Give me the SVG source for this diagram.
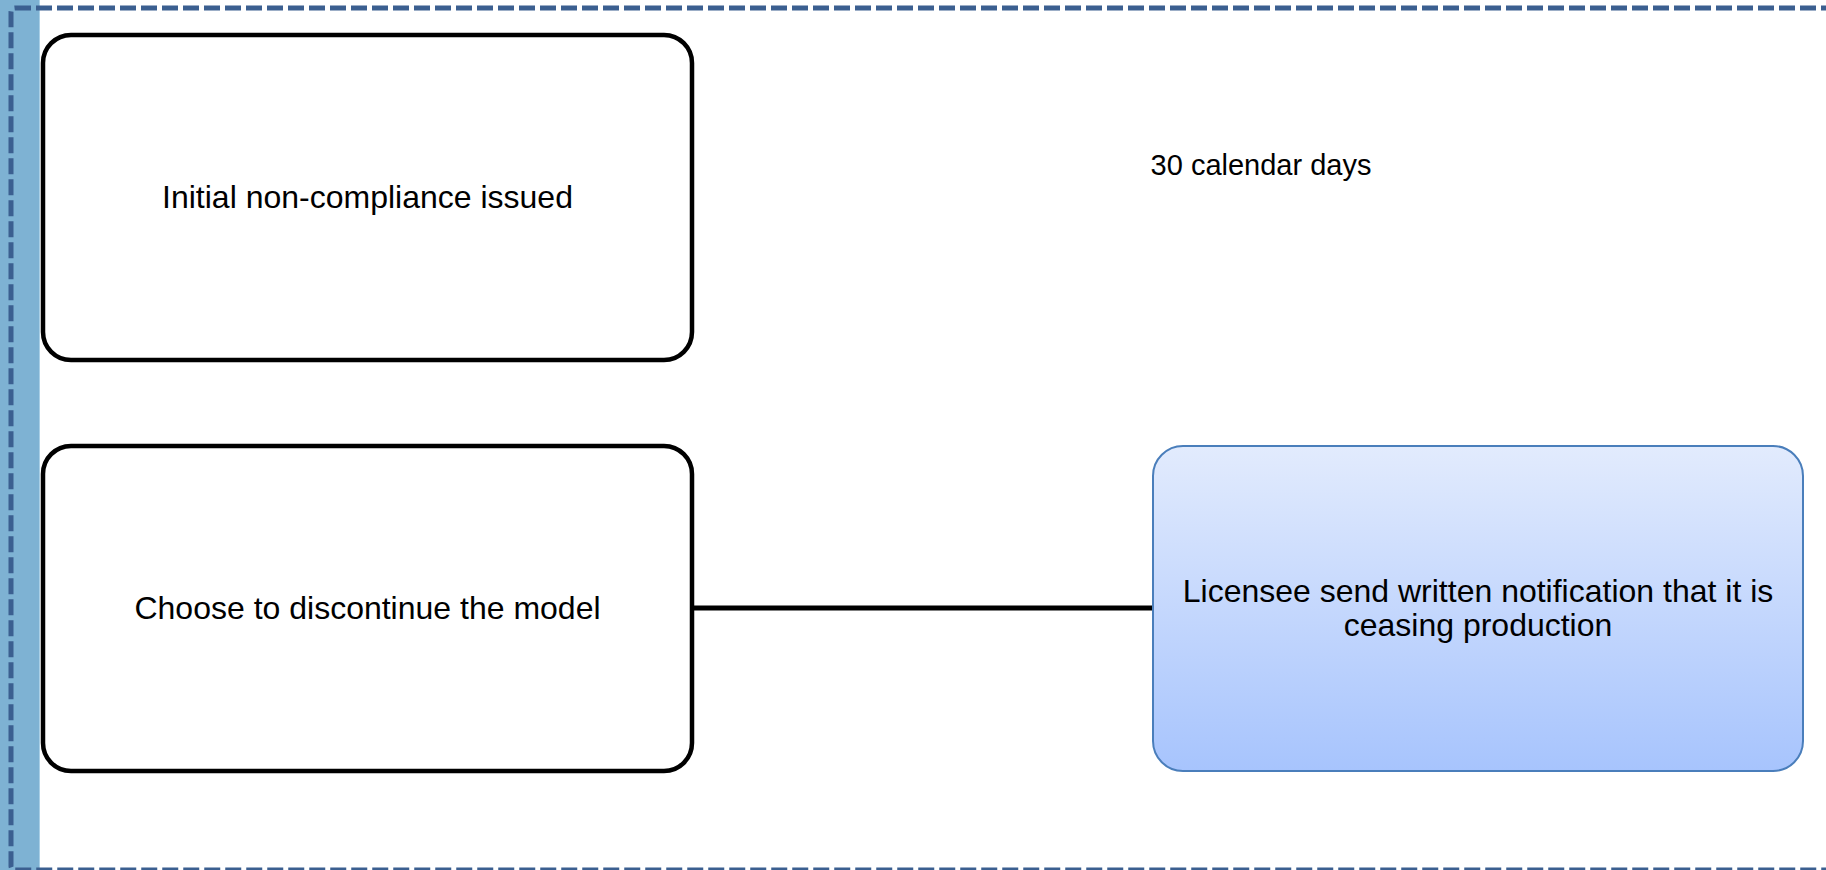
<svg xmlns="http://www.w3.org/2000/svg" width="1826" height="870" viewBox="0 0 1826 870">
  <defs>
    <linearGradient id="blueGrad" x1="0" y1="0" x2="0" y2="1">
      <stop offset="0" stop-color="#e2ebfd"/>
      <stop offset="1" stop-color="#a7c4fd"/>
    </linearGradient>
    <style>
      .box { fill: #ffffff; stroke: #000000; stroke-width: 4.5; }
      .bluebox { fill: url(#blueGrad); stroke: #4a7ebb; stroke-width: 2; }
      .lbl { font-family: "Liberation Sans", Arial, sans-serif; font-size: 32px; fill: #000000; text-anchor: middle; }
      .conn { stroke: #000000; stroke-width: 5; fill: none; }
    </style>
  </defs>
  <rect x="0" y="0" width="1826" height="870" fill="#ffffff"/>
  <g id="lane">
    <rect x="0" y="0" width="39" height="870" fill="#7eb2d3"/>
    <line x1="39.5" y1="0" x2="39.5" y2="870" stroke="#a9cfe6" stroke-width="1"/>
    <rect x="11" y="8" width="1830" height="862" rx="4" fill="none" stroke="#3b5f90" stroke-width="5" stroke-dasharray="16 5"/>
  </g>
  <g id="connectors">
    <line class="conn" x1="692" y1="608" x2="1153" y2="608"/>
  </g>
  <g id="node-initial">
    <rect class="box" x="43" y="35" width="649" height="325" rx="28"/>
    <text class="lbl" x="367.5" y="208">Initial non-compliance issued</text>
  </g>
  <g id="node-discontinue">
    <rect class="box" x="43" y="446" width="649" height="325" rx="28"/>
    <text class="lbl" x="367.5" y="619">Choose to discontinue the model</text>
  </g>
  <g id="node-notification">
    <rect class="bluebox" x="1153" y="446" width="650" height="325" rx="30"/>
    <text class="lbl" x="1478" y="602">Licensee send written notification that it is</text>
    <text class="lbl" x="1478" y="636">ceasing production</text>
  </g>
  <g id="label-days">
    <text class="lbl" x="1261" y="175" style="font-size:29px">30 calendar days</text>
  </g>
</svg>
